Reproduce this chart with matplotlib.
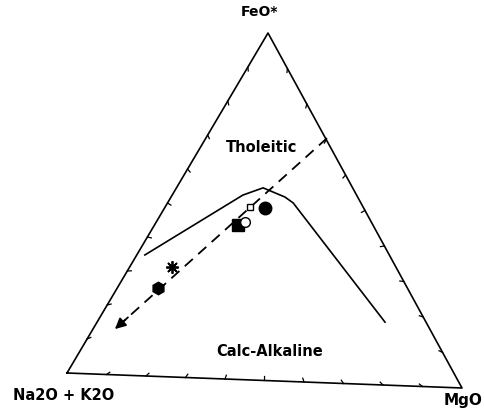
# -*- coding:utf-8 -*-
import matplotlib
matplotlib.use('Agg')
import matplotlib.pyplot as plt
import numpy as np

# corners of the AFM triangle (pixel positions on the scanned figure)
A_XY = (67, 373)    # Na2O + K2O
F_XY = (268, 33)    # FeO*
M_XY = (462, 388)   # MgO

# Irvine & Baragar boundary, as (F, M) fractions; A = 1 - F - M
bound_f = [0.348, 0.531, 0.554, 0.530, 0.514, 0.181]
bound_m = [0.020, 0.175, 0.2145, 0.282, 0.311, 0.713]

# trend line (dashed, with arrow) from top to tip
trend_f = [0.704, 0.126]
trend_m = [0.300, 0.052]

# samples
samp_f = [0.496, 0.4975, 0.444, 0.454, 0.316, 0.254]
samp_m = [0.249, 0.210, 0.207, 0.220, 0.105, 0.101]
samp_mk = ['o', 's', 's', 'o', '*', 'h']
samp_fill = [True, False, True, False, False, True]
samp_sz = [9, 5, 9, 7, 9, 9]

ticks = np.arange(0.1, 1.0, 0.1)


def tern(f, m):
    f = np.asarray(f, float)
    m = np.asarray(m, float)
    a = 1 - f - m
    x = a * A_XY[0] + f * F_XY[0] + m * M_XY[0]
    y = a * A_XY[1] + f * F_XY[1] + m * M_XY[1]
    return x, y


fig = plt.figure(figsize=(4.85, 4.13), dpi=100)
ax = fig.add_axes([0, 0, 1, 1])
ax.set_xlim(0, 485)
ax.set_ylim(413, 0)
ax.axis('off')

# triangle
tx, ty = tern([0, 1, 0, 0], [0, 0, 1, 0])
ax.plot(tx, ty, color='black', lw=1.2)

# small tick marks along the edges, pointing inwards
cx, cy = tern([1 / 3.], [1 / 3.])
edges = [((0, 0), (1, 0)), ((1, 0), (0, 1)), ((0, 1), (0, 0))]
for (f0, m0), (f1, m1) in edges:
    for t in ticks:
        px, py = tern([f0 + (f1 - f0) * t], [m0 + (m1 - m0) * t])
        dx, dy = cx[0] - px[0], cy[0] - py[0]
        d = np.hypot(dx, dy)
        ax.plot([px[0], px[0] + 4 * dx / d], [py[0], py[0] + 4 * dy / d],
                color='black', lw=0.9)

# boundary curve
bx, by = tern(bound_f, bound_m)
ax.plot(bx, by, color='black', lw=1.2)

# dashed trend with arrow
lx, ly = tern(trend_f, trend_m)
ax.plot([lx[0], lx[1] + (lx[0] - lx[1]) * 0.04],
        [ly[0], ly[1] + (ly[0] - ly[1]) * 0.04],
        color='black', lw=1.3, dashes=(6, 4))
ax.annotate('', xy=(lx[1], ly[1]),
            xytext=(lx[1] + (lx[0] - lx[1]) * 0.08, ly[1] + (ly[0] - ly[1]) * 0.08),
            arrowprops=dict(arrowstyle='-|>', color='black', lw=1.3,
                            mutation_scale=16))

# samples
sx, sy = tern(samp_f, samp_m)
for i in range(len(sx)):
    fc = 'black' if samp_fill[i] else 'white'
    if samp_mk[i] == '*':
        ax.plot(sx[i], sy[i], marker=(8, 2, 0), ms=samp_sz[i], color='black',
                mew=1.3)
    else:
        ax.plot(sx[i], sy[i], marker=samp_mk[i], ms=samp_sz[i],
                mfc=fc, mec='black', mew=1.0)

# labels
ax.text(260, 12, 'FeO*', ha='center', va='center', fontsize=10,
        fontweight='bold')
ax.text(64, 395, 'Na2O + K2O', ha='center', va='center', fontsize=10.5,
        fontweight='bold')
ax.text(463, 401, 'MgO', ha='center', va='center', fontsize=11,
        fontweight='bold')
ax.text(262, 148, 'Tholeitic', ha='center', va='center', fontsize=10.5,
        fontweight='bold')
ax.text(270, 352, 'Calc-Alkaline', ha='center', va='center', fontsize=10.5,
        fontweight='bold')

fig.savefig('out.png', dpi=100, facecolor='white')
